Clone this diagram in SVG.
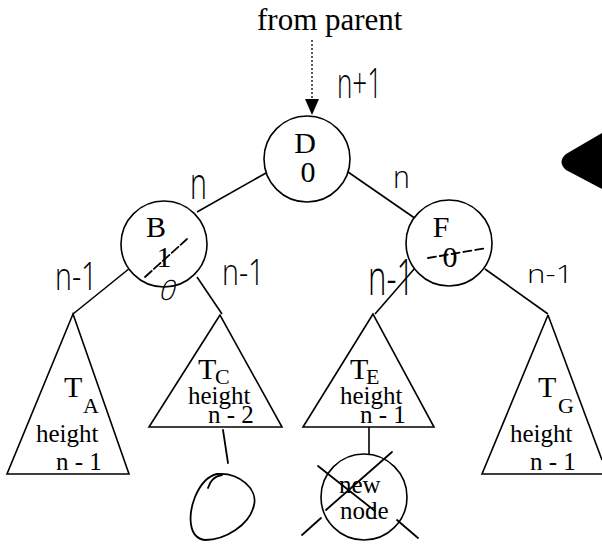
<svg xmlns="http://www.w3.org/2000/svg" width="602" height="544" viewBox="0 0 602 544">
<style>
.t{font-family:"Liberation Serif","Times New Roman",serif;fill:#000}
.big{font-size:30px}
.sub{font-size:22px}
.mid{font-size:25px}
.c{fill:#fff;stroke:#000;stroke-width:1.6}
.e{stroke:#000;stroke-width:1.6;fill:none}
.h{font-family:"Open Sans","DejaVu Sans",sans-serif;font-weight:300;font-size:26px;fill:#000}
.hs{stroke:#000;stroke-width:1.8;fill:none;stroke-linecap:round}
</style>
<rect width="602" height="544" fill="#fff"/>
<text class="t" x="257" y="30" style="font-size:31px">from parent</text>
<g id="connectors">
<line x1="312" y1="40" x2="312" y2="100" stroke="#000" stroke-width="1.3" stroke-dasharray="2,2"/>
<path d="M305,99 L319,99 L312,115 Z" fill="#000"/>
<line class="e" x1="197" y1="212" x2="266" y2="173"/>
<line class="e" x1="348" y1="172" x2="416" y2="219"/>
<line class="e" x1="130" y1="268" x2="73" y2="314"/>
<line class="e" x1="197" y1="277" x2="222" y2="314"/>
<line class="e" x1="415" y1="268" x2="375" y2="314"/>
<line class="e" x1="485" y1="269" x2="548" y2="314"/>
<line class="e" x1="369" y1="427" x2="369" y2="455"/>
</g>
<g id="D">
<circle class="c" cx="307" cy="159" r="43"/>
<text class="t big" x="305" y="153" text-anchor="middle">D</text>
<text class="t big" x="308" y="182" text-anchor="middle">0</text>
</g>
<g id="B">
<circle class="c" cx="164" cy="244" r="43"/>
<text class="t big" x="156" y="237" text-anchor="middle">B</text>
<text class="t big" x="164" y="267" text-anchor="middle">1</text>
</g>
<g id="F">
<circle class="c" cx="449" cy="243" r="43"/>
<text class="t big" x="441" y="237" text-anchor="middle">F</text>
<text class="t big" x="450" y="267" text-anchor="middle">0</text>
</g>
<g id="TA">
<path class="e" d="M73,314 L7,474 L129,474 Z"/>
<text class="t big" x="64" y="397">T</text>
<text class="t sub" x="83" y="413">A</text>
<text class="t mid" x="36" y="442">height</text>
<text class="t mid" x="56" y="470">n - 1</text>
</g>
<g id="TC">
<path class="e" d="M220,315 L149,427 L282,427 Z"/>
<text class="t big" x="198" y="379">T</text>
<text class="t sub" x="215" y="384">C</text>
<text class="t mid" x="188" y="404">height</text>
<text class="t mid" x="208" y="423">n - 2</text>
</g>
<g id="TE">
<path class="e" d="M373,314 L303,427 L434,427 Z"/>
<text class="t big" x="350" y="379">T</text>
<text class="t sub" x="366" y="384">E</text>
<text class="t mid" x="340" y="404">height</text>
<text class="t mid" x="360" y="423">n - 1</text>
</g>
<g id="TG">
<path class="e" d="M548,315 L482,474 L603,474"/>
<line class="e" x1="548" y1="315" x2="602" y2="460"/>
<text class="t big" x="538" y="397">T</text>
<text class="t sub" x="558" y="413">G</text>
<text class="t mid" x="510" y="442">height</text>
<text class="t mid" x="530" y="470">n - 1</text>
</g>
<g id="newnode">
<circle class="c" cx="364" cy="497" r="43"/>
<text class="t mid" x="339" y="493">new</text>
<text class="t mid" x="340" y="519">node</text>
</g>
<g id="annotations">
<text class="h" transform="translate(337,98) scale(1,1.6)">n+1</text>
<text class="h" transform="translate(190,199) scale(1.1,1.7)">n</text>
<text class="h" transform="translate(393,188) scale(1.1,1.2)">n</text>
<text class="h" transform="translate(55,290) scale(1.1,1.5)">n-1</text>
<text class="h" transform="translate(222,285) scale(1.1,1.4)">n-1</text>
<text class="h" transform="translate(368,295) scale(1.2,1.9)">n-1</text>
<text class="h" transform="translate(527,283) scale(1.2,1.0)">n-1</text>
<text class="h" transform="translate(158,300) skewX(-15)" style="font-size:28px">0</text>
<line class="hs" x1="145" y1="277" x2="187" y2="239" stroke-dasharray="9,3"/>
<line class="hs" x1="428" y1="258" x2="487" y2="248" stroke-dasharray="8,4"/>
<path class="hs" d="M223,430 L228,463"/>
<path class="hs" d="M217,474 C240,472 258,490 254,505 C250,525 225,540 205,540 C188,538 188,515 195,497 C200,485 208,476 217,474 Z"/>
<path class="hs" d="M208,488 C210,481 215,476 222,475"/>
<path class="hs" d="M318,466 L375,511"/>
<path class="hs" d="M392,452 L326,510"/>
<path class="hs" d="M302,535 L321,518"/>
<path class="hs" d="M397,520 L418,538"/>
<path d="M602,133 L566,154 Q557,162 566,170 L602,189 Z" fill="#000"/>
</g>
</svg>
